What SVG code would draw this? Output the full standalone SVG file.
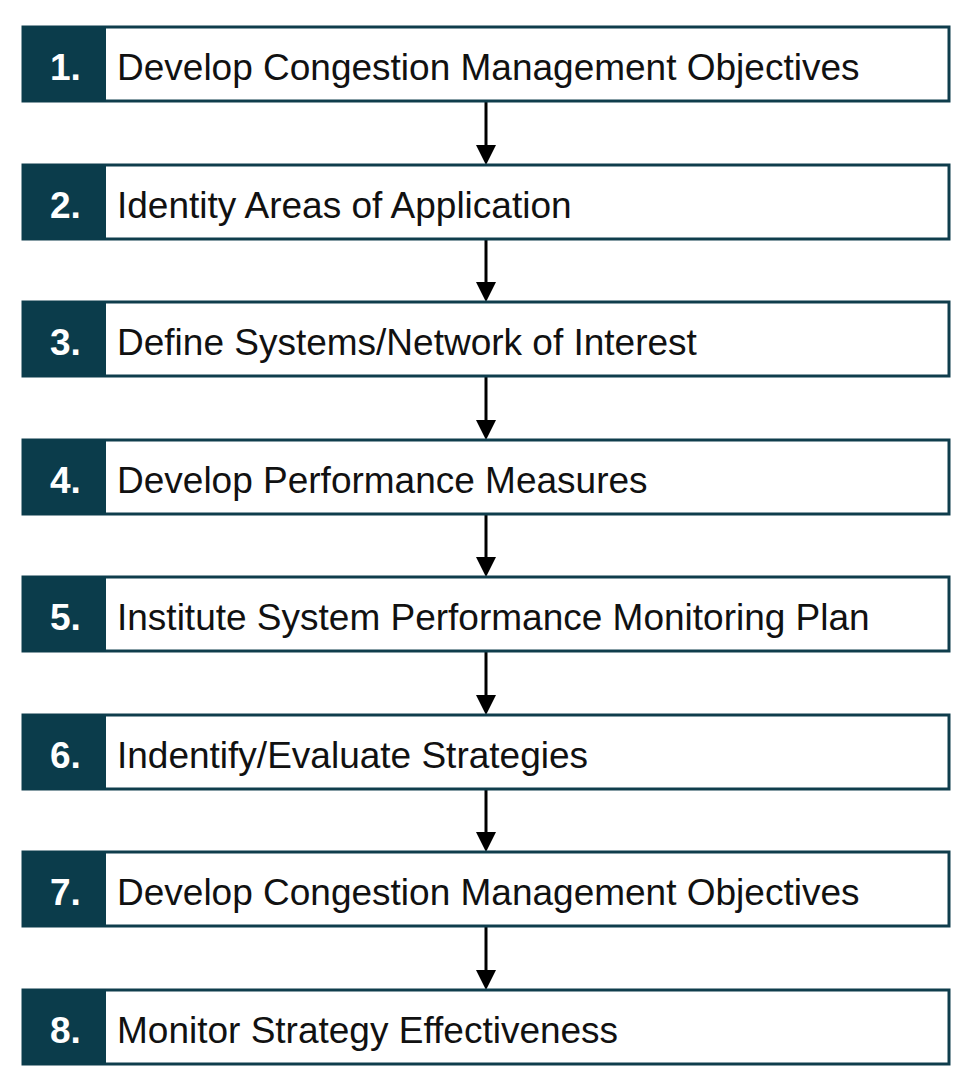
<svg xmlns="http://www.w3.org/2000/svg" width="974" height="1066" viewBox="0 0 974 1066">
<defs>
<style>
.box{fill:#ffffff;stroke:#0f3d4c;stroke-width:3}
.num{fill:#0b3c4b}
.nt{font-family:"Liberation Sans",Arial,sans-serif;font-weight:bold;font-size:37px;fill:#ffffff}
.lt{font-family:"Liberation Sans",Arial,sans-serif;font-size:37px;fill:#111111}
.conn{stroke:#000000;stroke-width:3;fill:none}
.ah{fill:#000000}
</style>
</defs>
<g id="connectors">
<path class="conn" d="M486,101 V145"/><polygon class="ah" points="476,145 496,145 486,165"/>
<path class="conn" d="M486,239 V282"/><polygon class="ah" points="476,282 496,282 486,302"/>
<path class="conn" d="M486,376 V420"/><polygon class="ah" points="476,420 496,420 486,440"/>
<path class="conn" d="M486,514 V557"/><polygon class="ah" points="476,557 496,557 486,577"/>
<path class="conn" d="M486,651 V695"/><polygon class="ah" points="476,695 496,695 486,715"/>
<path class="conn" d="M486,789 V832"/><polygon class="ah" points="476,832 496,832 486,852"/>
<path class="conn" d="M486,926 V970"/><polygon class="ah" points="476,970 496,970 486,990"/>
</g>
<g id="step1"><rect class="box" x="23" y="27" width="926" height="74"/><rect class="num" x="22" y="26" width="84" height="76"/><text class="nt" x="50" y="80">1.</text><text class="lt" x="117" y="80">Develop Congestion Management Objectives</text></g>
<g id="step2"><rect class="box" x="23" y="165" width="926" height="74"/><rect class="num" x="22" y="164" width="84" height="76"/><text class="nt" x="50" y="218">2.</text><text class="lt" x="117" y="218">Identity Areas of Application</text></g>
<g id="step3"><rect class="box" x="23" y="302" width="926" height="74"/><rect class="num" x="22" y="301" width="84" height="76"/><text class="nt" x="50" y="355">3.</text><text class="lt" x="117" y="355">Define Systems/Network of Interest</text></g>
<g id="step4"><rect class="box" x="23" y="440" width="926" height="74"/><rect class="num" x="22" y="439" width="84" height="76"/><text class="nt" x="50" y="493">4.</text><text class="lt" x="117" y="493">Develop Performance Measures</text></g>
<g id="step5"><rect class="box" x="23" y="577" width="926" height="74"/><rect class="num" x="22" y="576" width="84" height="76"/><text class="nt" x="50" y="630">5.</text><text class="lt" x="117" y="630">Institute System Performance Monitoring Plan</text></g>
<g id="step6"><rect class="box" x="23" y="715" width="926" height="74"/><rect class="num" x="22" y="714" width="84" height="76"/><text class="nt" x="50" y="768">6.</text><text class="lt" x="117" y="768">Indentify/Evaluate Strategies</text></g>
<g id="step7"><rect class="box" x="23" y="852" width="926" height="74"/><rect class="num" x="22" y="851" width="84" height="76"/><text class="nt" x="50" y="905">7.</text><text class="lt" x="117" y="905">Develop Congestion Management Objectives</text></g>
<g id="step8"><rect class="box" x="23" y="990" width="926" height="74"/><rect class="num" x="22" y="989" width="84" height="76"/><text class="nt" x="50" y="1043">8.</text><text class="lt" x="117" y="1043">Monitor Strategy Effectiveness</text></g>
</svg>
